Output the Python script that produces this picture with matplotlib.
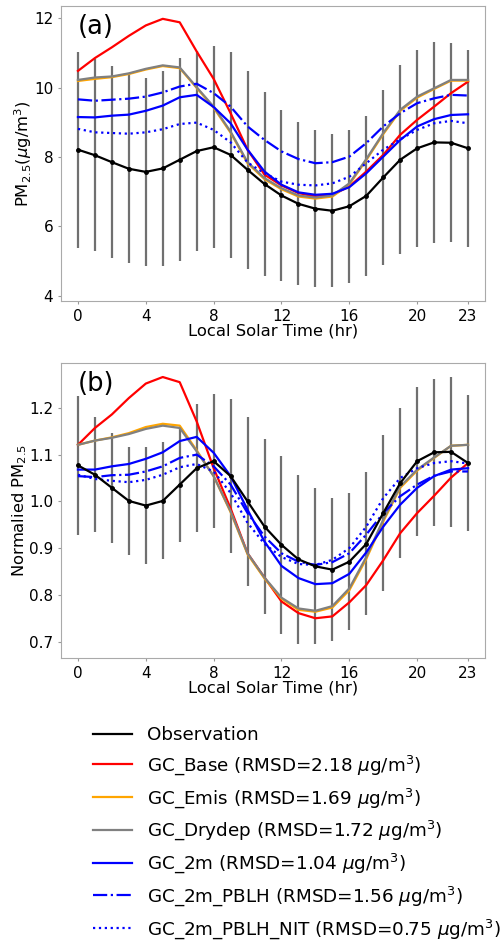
import matplotlib
matplotlib.use('Agg')
from matplotlib import pyplot as plt

hours = list(range(24))

# (a) 绝对浓度
obs_a = [8.21, 8.05, 7.85, 7.66, 7.57, 7.67, 7.92, 8.17, 8.28, 8.06, 7.63, 7.22,
         6.89, 6.65, 6.51, 6.45, 6.58, 6.88, 7.41, 7.92, 8.25, 8.42, 8.41, 8.25]
std_a = [2.82, 2.77, 2.76, 2.72, 2.70, 2.81, 2.92, 2.89, 2.91, 2.96, 2.86, 2.65,
         2.47, 2.35, 2.26, 2.21, 2.21, 2.30, 2.53, 2.73, 2.84, 2.89, 2.87, 2.84]
base_a = [10.48, 10.85, 11.16, 11.49, 11.79, 11.98, 11.88, 11.04, 10.25, 9.26, 8.21, 7.49,
          7.18, 6.96, 6.86, 6.91, 7.15, 7.58, 8.06, 8.64, 9.07, 9.45, 9.84, 10.17]
emis_a = [10.19, 10.25, 10.30, 10.39, 10.52, 10.62, 10.56, 9.99, 9.42, 8.70, 7.82, 7.36,
          7.07, 6.86, 6.80, 6.86, 7.21, 7.91, 8.66, 9.33, 9.71, 9.96, 10.20, 10.20]
drydep_a = [10.22, 10.29, 10.32, 10.41, 10.54, 10.64, 10.58, 10.01, 9.45, 8.73, 7.85, 7.39,
            7.10, 6.89, 6.83, 6.89, 7.24, 7.94, 8.69, 9.36, 9.74, 9.98, 10.22, 10.22]
m2_a = [9.15, 9.14, 9.19, 9.22, 9.33, 9.48, 9.72, 9.79, 9.44, 8.97, 8.21, 7.58,
        7.20, 6.98, 6.91, 6.94, 7.13, 7.53, 8.01, 8.49, 8.88, 9.09, 9.21, 9.23]
pblh_a = [9.66, 9.62, 9.65, 9.68, 9.74, 9.86, 10.03, 10.11, 9.84, 9.45, 8.88, 8.49,
          8.16, 7.94, 7.82, 7.85, 8.01, 8.40, 8.88, 9.26, 9.55, 9.69, 9.79, 9.77]
nit_a = [8.81, 8.71, 8.69, 8.67, 8.71, 8.80, 8.95, 8.99, 8.78, 8.42, 7.84, 7.53,
         7.29, 7.20, 7.18, 7.24, 7.43, 7.82, 8.21, 8.51, 8.78, 8.97, 9.04, 8.97]

# (b) 归一化
obs_b = [1.077, 1.057, 1.029, 1.001, 0.991, 1.001, 1.036, 1.071, 1.086, 1.054, 1.000, 0.946,
         0.907, 0.876, 0.861, 0.854, 0.871, 0.909, 0.975, 1.039, 1.086, 1.105, 1.106, 1.082]
std_b = [0.148, 0.123, 0.118, 0.116, 0.125, 0.125, 0.122, 0.137, 0.143, 0.164, 0.181, 0.187,
         0.190, 0.180, 0.167, 0.153, 0.147, 0.153, 0.166, 0.160, 0.159, 0.157, 0.161, 0.146]
base_b = [1.121, 1.157, 1.186, 1.221, 1.252, 1.266, 1.255, 1.171, 1.071, 0.985, 0.889, 0.837,
          0.786, 0.761, 0.750, 0.754, 0.784, 0.821, 0.874, 0.932, 0.975, 1.012, 1.051, 1.082]
emis_b = [1.121, 1.130, 1.137, 1.146, 1.159, 1.166, 1.162, 1.109, 1.054, 0.977, 0.887, 0.835,
          0.792, 0.768, 0.764, 0.773, 0.810, 0.877, 0.957, 1.029, 1.066, 1.093, 1.119, 1.121]
drydep_b = [1.121, 1.130, 1.136, 1.144, 1.155, 1.162, 1.157, 1.107, 1.054, 0.979, 0.889, 0.837,
            0.794, 0.771, 0.766, 0.776, 0.814, 0.881, 0.961, 1.032, 1.068, 1.094, 1.119, 1.121]
m2_b = [1.068, 1.068, 1.075, 1.080, 1.091, 1.105, 1.129, 1.138, 1.104, 1.054, 0.982, 0.914,
        0.862, 0.836, 0.823, 0.825, 0.845, 0.891, 0.946, 0.993, 1.029, 1.054, 1.068, 1.071]
pblh_b = [1.054, 1.052, 1.056, 1.057, 1.064, 1.075, 1.093, 1.100, 1.075, 1.036, 0.975, 0.925,
          0.889, 0.871, 0.864, 0.870, 0.889, 0.929, 0.975, 1.011, 1.036, 1.055, 1.064, 1.064]
nit_b = [1.057, 1.048, 1.044, 1.041, 1.046, 1.057, 1.073, 1.080, 1.064, 1.018, 0.954, 0.909,
         0.881, 0.866, 0.864, 0.875, 0.900, 0.946, 1.007, 1.050, 1.071, 1.082, 1.086, 1.081]

labels = ['Observation',
          r'GC_Base (RMSD=2.18 $\mu$g/m$^3$)',
          r'GC_Emis (RMSD=1.69 $\mu$g/m$^3$)',
          r'GC_Drydep (RMSD=1.72 $\mu$g/m$^3$)',
          r'GC_2m (RMSD=1.04 $\mu$g/m$^3$)',
          r'GC_2m_PBLH (RMSD=1.56 $\mu$g/m$^3$)',
          r'GC_2m_PBLH_NIT (RMSD=0.75 $\mu$g/m$^3$)']
colors = ['black', 'red', 'orange', 'grey', 'blue', 'blue', 'blue']
styles = ['-', '-', '-', '-', '-', '-.', ':']
xticks = [0, 4, 8, 12, 16, 20, 23]

fig = plt.figure(figsize=(5.04, 9.4), dpi=100)
ax1 = fig.add_axes([61 / 504, 1 - 301 / 940, 424 / 504, 295 / 940])
ax2 = fig.add_axes([61 / 504, 1 - 658 / 940, 424 / 504, 295 / 940])


def draw(ax, obs, std, models, tag, ylabel, ylim):
    ax.errorbar(hours, obs, yerr=std, fmt='none', ecolor='#707070', elinewidth=1.6, zorder=1)
    ax.plot(hours, obs, '-', color='black', lw=1.6, marker='.', ms=5, zorder=5)
    for m, c, s in zip(models, colors[1:], styles[1:]):
        ax.plot(hours, m, s, color=c, lw=1.6, zorder=3)
    ax.set_xlim(-1, 24)
    ax.set_ylim(ylim)
    ax.set_xticks(xticks)
    ax.tick_params(labelsize=11, length=2.5, color='#999999', pad=3)
    for sp in ax.spines.values():
        sp.set_color('#aaaaaa')
    ax.set_xlabel('Local Solar Time (hr)', fontsize=11.8, labelpad=0)
    ax.set_ylabel(ylabel, fontsize=11.8, labelpad=0)
    ax.text(0.04, 0.972, tag, transform=ax.transAxes, va='top', fontsize=18.5)


draw(ax1, obs_a, std_a, [base_a, emis_a, drydep_a, m2_a, pblh_a, nit_a],
     '(a)', r'PM$_{2.5}$($\mu$g/m$^3$)', (3.85, 12.35))
ax1.set_yticks([4, 6, 8, 10, 12])
draw(ax2, obs_b, std_b, [base_b, emis_b, drydep_b, m2_b, pblh_b, nit_b],
     '(b)', r'Normalied PM$_{2.5}$', (0.665, 1.296))
ax2.set_yticks([0.7, 0.8, 0.9, 1.0, 1.1, 1.2])

# 图例单独放在下方
leg_handles = []
for c, s in zip(colors, styles):
    h, = ax2.plot([], [], s, color=c, lw=1.6)
    leg_handles.append(h)
fig.legend(leg_handles, labels, loc='upper left', bbox_to_anchor=(93 / 504, 1 - 726 / 940),
           frameon=False, fontsize=13.2, handlelength=2.13, handletextpad=0.82,
           labelspacing=0.5, borderpad=0, borderaxespad=0)

fig.savefig('out.png', dpi=100)
